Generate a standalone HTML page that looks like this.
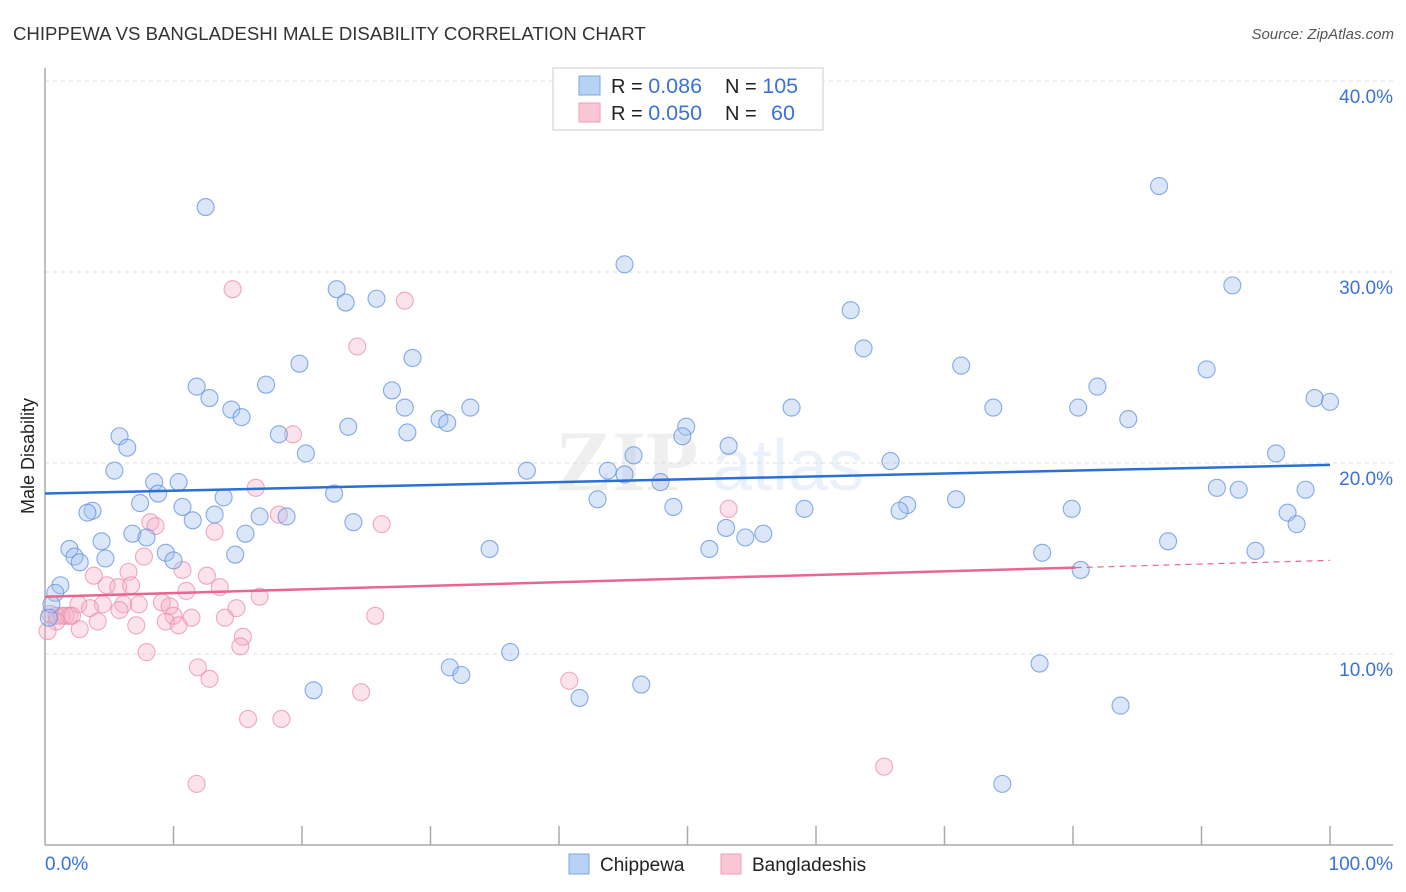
<!DOCTYPE html>
<html><head><meta charset="utf-8"><style>
body{margin:0;background:#fff;font-family:"Liberation Sans",sans-serif;}
svg{display:block}
</style></head><body>
<svg id="chart" width="1406" height="892" xmlns="http://www.w3.org/2000/svg">
<text x="13" y="40" font-size="18.6" fill="#333">CHIPPEWA VS BANGLADESHI MALE DISABILITY CORRELATION CHART</text>
<text x="1394" y="39" font-size="15" fill="#555" font-style="italic" text-anchor="end">Source: ZipAtlas.com</text>
<g opacity="0.13">
<text x="555" y="490" font-size="86" font-family="Liberation Serif,serif" font-weight="bold" fill="#888">ZIP</text>
<text x="712" y="490" font-size="72" fill="#6a9be0">atlas</text>
</g>
<g id="grid"></g>
<g id="axes"></g>
<g id="marks"></g>
<text x="34" y="456" font-size="18" fill="#222" text-anchor="middle" transform="rotate(-90 34 456)">Male Disability</text>
<g>
<rect x="553" y="68" width="270" height="62" fill="#fff" stroke="#ccc"/>
<rect x="579" y="76" width="21" height="19" fill="#b8d2f5" stroke="#7aa5e3"/>
<rect x="579" y="103" width="21" height="19" fill="#fac6d6" stroke="#ec9db6"/>
<text x="611" y="93" font-size="20" fill="#222">R = <tspan fill="#3a72d8" font-size="21.5">0.086</tspan><tspan x="725">N = </tspan><tspan fill="#3a72d8" font-size="21.5">105</tspan></text>
<text x="611" y="120" font-size="20" fill="#222">R = <tspan fill="#3a72d8" font-size="21.5">0.050</tspan><tspan x="725">N = </tspan><tspan fill="#3a72d8" x="771" font-size="21.5">60</tspan></text>
</g>
<g>
<rect x="569" y="854" width="20" height="20" fill="#b8d2f5" stroke="#7aa5e3"/>
<text x="600" y="871" font-size="19" fill="#222">Chippewa</text>
<rect x="721" y="854" width="20" height="20" fill="#fac6d6" stroke="#ec9db6"/>
<text x="752" y="871" font-size="19" fill="#222">Bangladeshis</text>
</g>
<text x="45" y="870" font-size="19" fill="#3a72d8">0.0%</text>
<text x="1393" y="870" font-size="19" fill="#3a72d8" text-anchor="end">100.0%</text>
</svg>
<script>
const yTicks=[10,20,30,40];
const yTickLabels=["10.0%","20.0%","30.0%","40.0%"];
const blueX=[12.5,86.7,45.1,22.7,23.4,25.8,92.4,62.7,63.7,19.8,28.6,71.3,90.4,11.8,17.2,27.0,81.9,12.8,14.5,15.3,28.0,33.1,58.1,73.8,80.4,98.8,100,30.7,31.3,23.6,84.3,49.9,5.8,18.2,28.2,49.6,6.4,20.3,45.8,53.2,95.8,5.4,37.5,43.8,45.1,65.8,8.5,10.4,8.8,47.9,22.5,7.4,13.9,91.2,92.9,98.1,43.0,70.9,10.7,3.7,3.3,13.2,16.7,18.8,48.9,59.1,67.1,66.5,79.9,96.7,11.5,24.0,6.8,7.9,15.6,53.0,54.5,55.9,97.4,4.4,87.4,1.9,9.4,34.6,51.7,14.8,77.6,94.2,2.3,2.7,4.7,10.0,80.6,1.2,0.8,0.5,0.3,31.5,32.4,36.2,77.4,20.9,46.4,41.6,83.7,74.5];
const blueY=[33.4,34.5,30.4,29.1,28.4,28.6,29.3,28.0,26.0,25.2,25.5,25.1,24.9,24.0,24.1,23.8,24.0,23.4,22.8,22.4,22.9,22.9,22.9,22.9,22.9,23.4,23.2,22.3,22.1,21.9,22.3,21.9,21.4,21.5,21.6,21.4,20.8,20.5,20.4,20.9,20.5,19.6,19.6,19.6,19.4,20.1,19.0,19.0,18.4,19.0,18.4,17.9,18.2,18.7,18.6,18.6,18.1,18.1,17.7,17.5,17.4,17.3,17.2,17.2,17.7,17.6,17.8,17.5,17.6,17.4,17.0,16.9,16.3,16.1,16.3,16.6,16.1,16.3,16.8,15.9,15.9,15.5,15.3,15.5,15.5,15.2,15.3,15.4,15.1,14.8,15.0,14.9,14.4,13.6,13.2,12.6,11.9,9.3,8.9,10.1,9.5,8.1,8.4,7.7,7.3,3.2];
const pinkX=[14.6,28.0,24.3,19.3,16.4,18.2,53.2,8.2,8.6,13.2,26.2,7.7,10.7,3.8,6.5,12.6,4.8,5.7,6.7,13.6,11.0,16.7,2.6,4.5,3.5,6.1,7.3,9.1,9.7,14.9,0.4,0.9,1.3,1.6,1.9,2.1,5.8,10.0,11.4,14.0,25.7,4.1,0.9,7.1,9.4,10.4,2.7,0.2,15.4,15.2,7.9,11.9,12.8,40.8,24.6,15.8,18.4,65.3,11.8];
const pinkY=[29.1,28.5,26.1,21.5,18.7,17.3,17.6,16.9,16.7,16.4,16.8,15.1,14.4,14.1,14.3,14.1,13.6,13.5,13.6,13.5,13.3,13.0,12.6,12.6,12.4,12.6,12.6,12.7,12.5,12.4,12.1,12.0,12.0,12.0,12.0,12.0,12.3,12.0,11.9,11.9,12.0,11.7,11.7,11.5,11.7,11.5,11.3,11.2,10.9,10.4,10.1,9.3,8.7,8.6,8.0,6.6,6.6,4.1,3.2];
const blueTrend=[18.4,19.9];
const pinkTrend=[13.0,14.9];
const pinkSolidEnd=80.2;

const NS="http://www.w3.org/2000/svg";
const X0=45,X1=1330,Y0=845,PXPER=19.1;
function sx(v){return X0+(X1-X0)*v/100;}
function sy(v){return Y0-PXPER*v;}
function mk(tag,attrs,parent){const e=document.createElementNS(NS,tag);for(const k in attrs)e.setAttribute(k,attrs[k]);parent.appendChild(e);return e;}
const grid=document.getElementById('grid'),axes=document.getElementById('axes'),marks=document.getElementById('marks');
yTicks.forEach((t,i)=>{
 const l=mk('line',{x1:X0,x2:1393,y1:sy(t),y2:sy(t),stroke:'#ddd','stroke-dasharray':'4,4'},grid);
 
 
 const tx=mk('text',{x:1393,y:sy(t)+22,'font-size':19,fill:'#3a72d8','text-anchor':'end'},grid);
 tx.textContent=yTickLabels[i];
 
 
});
const ya=mk('line',{x1:X0,x2:X0,y1:68,y2:Y0,stroke:'#aaa','stroke-width':1.5},axes);


const xa=mk('line',{x1:X0,x2:1393,y1:Y0,y2:Y0,stroke:'#aaa','stroke-width':1.5},axes);


for(let i=1;i<=10;i++){
 const t=mk('line',{x1:sx(i*10),x2:sx(i*10),y1:826,y2:Y0,stroke:'#aaa','stroke-width':1.5},axes);
 
 
}
function dots(xs,ys,fill,stroke,name){
 xs.forEach((v,i)=>{
  const c=mk('circle',{cx:sx(v),cy:sy(ys[i]),r:8.5,fill:fill,stroke:stroke,'stroke-width':1.1,'stroke-opacity':0.75},marks);
  
  
 });
}
dots(pinkX,pinkY,'rgba(246,170,194,0.33)','#ea8fac','bangladeshi-point');
dots(blueX,blueY,'rgba(160,192,240,0.38)','#5f92dc','chippewa-point');
const bt=mk('line',{x1:sx(0),x2:sx(100),y1:sy(blueTrend[0]),y2:sy(blueTrend[1]),stroke:'#2a6fd6','stroke-width':2.5},marks);


const slope=(pinkTrend[1]-pinkTrend[0])/100;
const pe=pinkTrend[0]+slope*pinkSolidEnd;
const pt=mk('line',{x1:sx(0),x2:sx(pinkSolidEnd),y1:sy(pinkTrend[0]),y2:sy(pe),stroke:'#e8668f','stroke-width':2.5},marks);


const pd=mk('line',{x1:sx(pinkSolidEnd),x2:sx(100),y1:sy(pe),y2:sy(pinkTrend[1]),stroke:'#e8668f','stroke-width':1.2,'stroke-dasharray':'6,5'},marks);


</script>
</body></html>
